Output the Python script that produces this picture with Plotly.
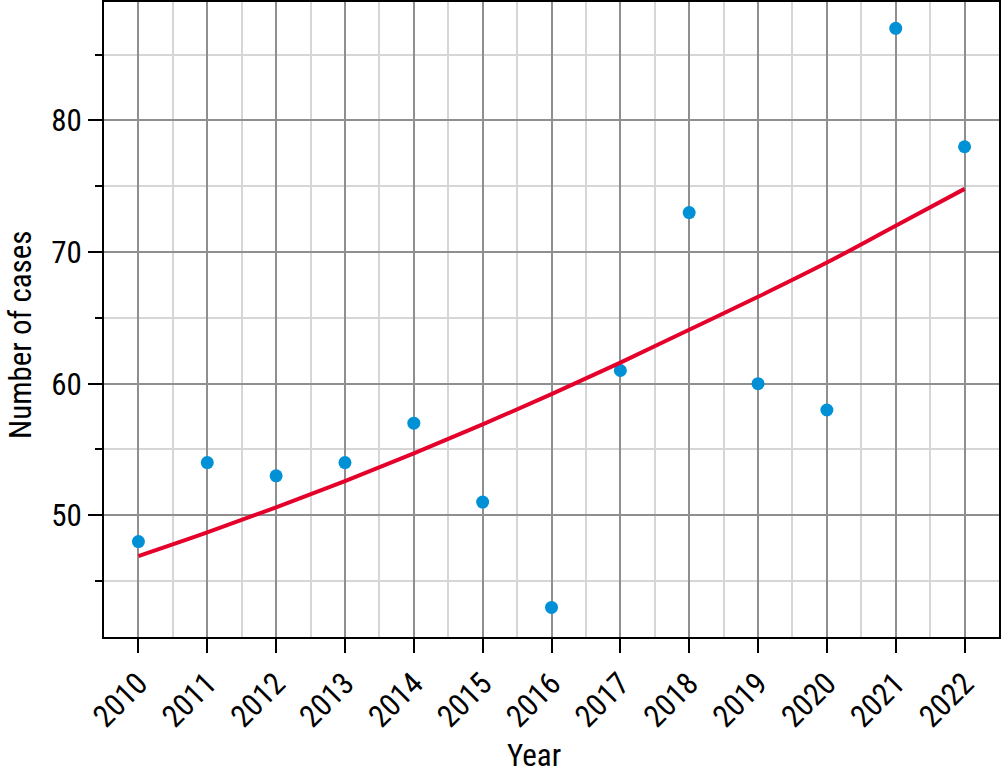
import plotly.graph_objects as go

years = [2010, 2011, 2012, 2013, 2014, 2015, 2016, 2017, 2018, 2019, 2020, 2021, 2022]
cases = [48, 54, 53, 54, 57, 51, 43, 61, 73, 60, 58, 87, 78]
trend = [46.9, 48.7, 50.6, 52.6, 54.7, 56.9, 59.2, 61.6, 64.1, 66.6, 69.2, 72.0, 74.8]
y_ticks = [50, 60, 70, 80]
x_title = "Year"
y_title = "Number of cases"

FONT = "Liberation Sans Narrow, Roboto Condensed, Arial Narrow, sans-serif"

fig = go.Figure()
fig.add_trace(go.Scatter(
    x=years, y=cases, mode="markers",
    marker=dict(color="#0090d6", size=13, line=dict(width=0)),
    showlegend=False,
))
fig.add_trace(go.Scatter(
    x=years, y=trend, mode="lines",
    line=dict(color="#e4002b", width=4, shape="spline"),
    showlegend=False,
))

fig.update_layout(
    width=1001, height=777,
    margin=dict(l=104, r=2, t=2, b=140, autoexpand=False),
    paper_bgcolor="white", plot_bgcolor="white",
    font=dict(family=FONT, size=31, color="black"),
    xaxis=dict(
        range=[2009.5, 2022.5], automargin=False,
        tickmode="array", tickvals=years, ticktext=[str(y) for y in years],
        tickangle=-45,
        ticks="outside", ticklen=14, tickwidth=2, tickcolor="black",
        showline=True, linecolor="black", linewidth=2, mirror=True,
        showgrid=True, gridcolor="#8f8f8f", gridwidth=2,
        minor=dict(dtick=0.5, tick0=2009.5, showgrid=True, gridcolor="#d6d6d6", gridwidth=2, ticks=""),
        zeroline=False,
    ),
    yaxis=dict(
        range=[40.75, 89.0], automargin=False,
        tickmode="array", tickvals=y_ticks,
        ticks="outside", ticklen=14, tickwidth=2, tickcolor="black",
        showline=True, linecolor="black", linewidth=2, mirror=True,
        showgrid=True, gridcolor="#8f8f8f", gridwidth=2,
        minor=dict(tickmode="array", tickvals=[45, 55, 65, 75, 85], showgrid=True,
                   gridcolor="#d6d6d6", gridwidth=2, ticks="outside", ticklen=7,
                   tickwidth=2, tickcolor="black"),
        zeroline=False,
    ),
    annotations=[
        dict(text=x_title, xref="paper", yref="paper", x=(534 - 104) / 895, y=0,
             xanchor="center", yanchor="middle", yshift=-118, showarrow=False,
             font=dict(family=FONT, size=31)),
        dict(text=y_title, xref="paper", yref="paper", x=0, y=(637 - 335) / 635,
             xanchor="center", yanchor="middle", xshift=-84, textangle=-90, showarrow=False,
             font=dict(family=FONT, size=31)),
    ],
)

fig.write_html(
    "out.html",
    config={"displayModeBar": False},
    post_script="document.body.style.margin='0';document.body.style.overflow='hidden';",
)
